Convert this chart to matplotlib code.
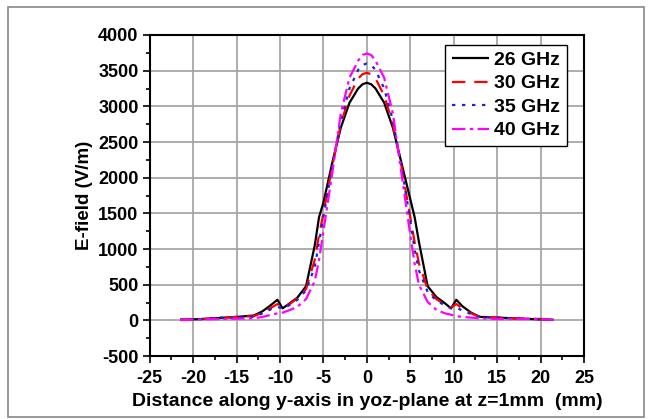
import matplotlib.pyplot as plt
from matplotlib.patches import Rectangle
from matplotlib.ticker import MultipleLocator

# sample positions along y (mm)
x_pos = [-21.5, -19, -17, -15, -13, -12, -11, -10.3, -9.7, -9, -8, -7, -6, -5.5, -5,
         -4, -3, -2, -1, -0.5, 0, 0.5, 1, 2, 3, 4, 5, 5.5, 6, 7, 8, 9, 9.7, 10.3,
         11, 12, 13, 15, 17, 19, 21.5]

e_26 = [10, 20, 35, 50, 70, 130, 220, 290, 170, 230, 320, 480, 1050, 1450, 1650,
        2200, 2700, 3050, 3250, 3310, 3330, 3310, 3250, 3050, 2700, 2200, 1700, 1450,
        1100, 480, 330, 240, 170, 290, 200, 110, 50, 40, 30, 20, 10]
e_30 = [10, 20, 35, 50, 60, 110, 180, 230, 180, 220, 310, 440, 850, 1200, 1500,
        2150, 2750, 3150, 3390, 3450, 3470, 3450, 3390, 3150, 2750, 2150, 1450, 1100,
        800, 440, 300, 220, 180, 230, 170, 100, 50, 40, 30, 25, 15]
e_35 = [10, 20, 40, 40, 50, 100, 160, 190, 170, 210, 290, 420, 750, 1100, 1450,
        2150, 2800, 3250, 3510, 3580, 3600, 3580, 3510, 3250, 2800, 2150, 1400, 1000,
        700, 400, 280, 210, 170, 180, 140, 90, 50, 40, 30, 20, 10]
e_40 = [5, 15, 20, 25, 30, 50, 80, 100, 110, 140, 190, 300, 550, 850, 1250,
        2050, 2900, 3400, 3640, 3720, 3740, 3720, 3640, 3400, 2900, 2050, 1200, 800,
        500, 260, 150, 100, 80, 60, 50, 40, 30, 20, 20, 20, 10]

series = [
    ("26 GHz", e_26, "black", (0, ())),
    ("30 GHz", e_30, "red", (0, (6, 4))),
    ("35 GHz", e_35, "#2020d0", (0, (1.5, 3))),
    ("40 GHz", e_40, "magenta", (0, (6, 2, 1.5, 2))),
]

plt.rcParams['font.family'] = ['Liberation Sans', 'DejaVu Sans']
plt.rcParams['font.weight'] = 'bold'
plt.rcParams['axes.unicode_minus'] = False

fig = plt.figure(figsize=(6.51, 4.19), dpi=100)
ax = fig.add_axes([0.230, 0.150, 0.667, 0.7665])

# thin grey frame around the whole picture
fig.patches.append(Rectangle((8 / 651, 2 / 419), 636 / 651, 410 / 419,
                             transform=fig.transFigure, fill=False,
                             edgecolor='#888888', linewidth=1.2))

for label, vals, color, ls in series:
    ax.plot(x_pos, vals, color=color, linestyle=ls, linewidth=1.6, label=label,
            zorder=3)

ax.set_xlim(-25, 25)
ax.set_ylim(-500, 4000)
ax.xaxis.set_major_locator(MultipleLocator(5))
ax.xaxis.set_minor_locator(MultipleLocator(2.5))
ax.yaxis.set_major_locator(MultipleLocator(500))
ax.yaxis.set_minor_locator(MultipleLocator(250))
ax.grid(True, which='major', color='#a0a0a0', linewidth=1.2)
ax.set_axisbelow(True)

ax.tick_params(which='both', direction='out', top=False, right=False,
               labelsize=13, width=1.2, pad=3)
ax.tick_params(axis='x', which='major', pad=5)
ax.tick_params(which='major', length=5)
ax.tick_params(which='minor', length=3)
for lab in ax.get_xticklabels() + ax.get_yticklabels():
    lab.set_fontweight('bold')
for sp in ax.spines.values():
    sp.set_linewidth(1.5)

ax.set_xlabel('Distance along y-axis in yoz-plane at z=1mm  (mm)',
              fontsize=14, fontweight='bold', labelpad=4)
ax.set_ylabel('E-field (V/m)', fontsize=13.5, fontweight='bold', labelpad=4)

leg = ax.legend(loc='upper right', bbox_to_anchor=(0.96, 0.97), fontsize=14,
                frameon=True, fancybox=False, edgecolor='black', framealpha=1,
                handlelength=1.9, handletextpad=0.25, borderpad=0.35,
                labelspacing=0.3, borderaxespad=0)
leg.get_frame().set_linewidth(1.0)

fig.savefig('out.png', dpi=100)
